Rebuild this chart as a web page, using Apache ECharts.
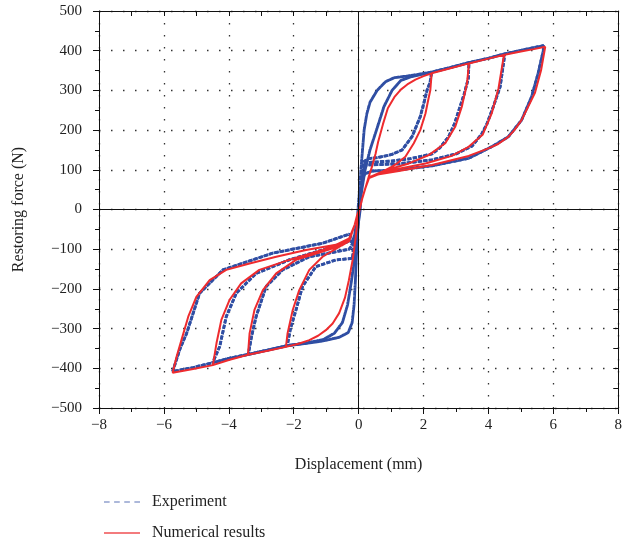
<!DOCTYPE html>
<html>
<head>
<meta charset="utf-8">
<script src="https://cdn.jsdelivr.net/npm/echarts@6/dist/echarts.min.js"></script>
<style>
  html, body { margin: 0; padding: 0; background: #fff; }
  #chartRoot { width: 625px; height: 548px; }
</style>
</head>
<body>
<div id="chartRoot"></div>
<script>
// 坐标轴刻度
const xTicks = [-8, -6, -4, -2, 0, 2, 4, 6, 8];
const yTicks = [-500, -400, -300, -200, -100, 0, 100, 200, 300, 400, 500];

// 数值模拟结果（红线），各分支由图中读取
const redEnvPos = [[0.03,0],[0.12,30],[0.22,57],[0.32,85],[0.42,110],[0.52,140],[0.6,170],[0.75,215],[0.9,255],[1.1,283],[1.3,302],[1.5,315],[1.75,327],[2.0,336],[2.25,343],[2.8,355],[3.4,368],[4.0,380],[4.5,390],[5.0,398],[5.4,404],[5.75,410]];
const redEnvNeg = [[0.03,0],[-0.04,-30],[-0.09,-70],[-0.18,-125],[-0.3,-178],[-0.42,-222],[-0.6,-261],[-0.8,-287],[-1.01,-304],[-1.25,-318],[-1.52,-329],[-1.85,-338],[-2.24,-346],[-2.8,-356],[-3.41,-366],[-4.0,-379],[-4.49,-392],[-5.1,-402],[-5.73,-411]];
const redUnload1 = [[2.25,343],[2.21,301],[2.13,270],[2.06,242],[1.9,200],[1.7,167],[1.44,133],[1.2,117],[1.03,108],[0.63,91],[0.32,79]];
const redUnload2 = [[3.4,368],[3.34,318],[3.18,259],[2.98,209],[2.67,167],[2.16,137],[1.55,116],[0.83,99],[0.32,81]];
const redUnload3 = [[4.5,390],[4.46,380],[4.31,305],[4.1,242],[3.82,188],[3.39,158],[2.87,135],[2.06,116],[1.2,102],[0.32,82]];
const redUnload4 = [[5.75,410],[5.62,350],[5.43,293],[5.2,255],[5.02,225],[4.8,200],[4.61,183],[4.3,165],[4.0,154],[3.39,135],[2.26,112],[1.24,97],[0.63,89],[0.32,79]];
const redReload1 = [[-2.24,-346],[-2.19,-312],[-2.03,-253],[-1.83,-203],[-1.52,-152],[-1.11,-119],[-0.6,-94],[-0.29,-77]];
const redReload2 = [[-3.41,-366],[-3.36,-312],[-3.21,-253],[-2.95,-203],[-2.54,-161],[-1.93,-127],[-1.11,-106],[-0.5,-90],[-0.29,-80]];
const redReload3 = [[-4.49,-392],[-4.38,-337],[-4.23,-278],[-3.98,-228],[-3.62,-186],[-3.06,-152],[-2.14,-127],[-1.11,-102],[-0.5,-85],[-0.29,-80]];
const redReload4 = [[-5.73,-411],[-5.61,-371],[-5.46,-329],[-5.25,-270],[-5.0,-220],[-4.59,-178],[-4.08,-152],[-3.36,-136],[-2.54,-119],[-1.62,-102],[-0.7,-89],[-0.29,-73]];
const redDescend = [[0.2,52],[0.1,25]];
const redAscend = [[-0.12,-38],[-0.04,-12]];

// 试验结果（蓝色虚线），两组近似包络表现多次循环的离散
const blueEnvPosA = [[-0.02,0],[0.03,50],[0.07,100],[0.12,150],[0.17,200],[0.25,240],[0.35,270],[0.57,300],[0.83,322],[1.1,332],[1.5,336],[2.25,346],[2.8,357],[3.4,370],[4.0,381],[4.5,392],[5.0,401],[5.7,413]];
const blueEnvPosB = [[0.02,0],[0.1,50],[0.2,100],[0.35,150],[0.55,200],[0.78,259],[1.03,300],[1.3,325],[1.6,334],[2.25,346],[2.8,357],[3.4,370],[4.0,381],[4.5,392],[5.0,401],[5.7,413]];
const blueEnvNegA = [[0.02,0],[-0.03,-60],[-0.07,-120],[-0.1,-180],[-0.14,-240],[-0.2,-285],[-0.32,-310],[-0.6,-322],[-1.1,-331],[-1.6,-337],[-2.2,-343],[-2.8,-354],[-3.4,-365],[-4.0,-375],[-4.5,-386],[-5.1,-398],[-5.73,-408]];
const blueEnvNegB = [[0.05,0],[-0.05,-60],[-0.12,-120],[-0.22,-180],[-0.34,-240],[-0.5,-285],[-0.75,-312],[-1.1,-328],[-1.6,-336],[-2.2,-343],[-2.8,-354],[-3.4,-365],[-4.0,-375],[-4.5,-386],[-5.1,-398],[-5.73,-408]];
const blueUnload1 = [[2.25,346],[2.2,320],[2.11,301],[2.0,265],[1.9,234],[1.65,184],[1.34,150],[1.0,138],[0.6,131],[0.3,128],[0.15,120]];
const blueUnload2 = [[3.4,370],[3.38,330],[3.25,290],[3.13,260],[2.95,215],[2.77,183],[2.5,155],[2.26,140],[1.6,128],[1.0,122],[0.22,118]];
const blueUnload3 = [[4.5,392],[4.48,377],[4.36,309],[4.15,259],[3.95,215],[3.79,190],[3.5,160],[3.0,140],[2.26,125],[1.24,115],[0.22,112]];
const blueUnload4 = [[5.7,413],[5.69,400],[5.53,343],[5.33,284],[5.02,225],[4.61,183],[4.1,158],[3.39,129],[2.26,110],[1.24,100],[0.42,97],[0.2,90]];
const blueReload1 = [[-2.2,-343],[-2.1,-300],[-1.93,-253],[-1.73,-194],[-1.32,-144],[-0.7,-127],[-0.19,-123]];
const blueReload2 = [[-3.4,-365],[-3.3,-320],[-3.16,-270],[-2.85,-194],[-2.34,-152],[-1.52,-119],[-0.29,-100]];
const blueReload3 = [[-4.5,-386],[-4.28,-345],[-4.08,-270],[-3.77,-211],[-3.16,-161],[-2.14,-127],[-1.11,-102],[-0.29,-80]];
const blueReload4 = [[-5.73,-408],[-5.5,-350],[-5.3,-312],[-4.9,-211],[-4.18,-152],[-2.65,-110],[-1.11,-85],[-0.29,-62]];
const blueDescendA = [[0.1,80],[0.05,40]];
const blueDescendB = [[0.15,80],[0.08,40]];
const blueAscendA = [[-0.1,-80],[-0.05,-40]];
const blueAscendB = [[-0.15,-80],[-0.08,-40]];

// 按加载顺序把各分支拼接成连续的滞回路径
let buildPath = (envPos, envNeg, unloads, reloads, descend, ascend) => {
    let path = [];
    unloads.forEach((unload, i) => {
        const reload = reloads[i];
        const ampPos = unload[0][0];
        const ampNeg = reload[0][0];
        path = path.concat(
            envPos.filter(p => p[0] < ampPos - 0.01),
            unload,
            descend,
            envNeg.filter(p => p[0] > ampNeg + 0.01),
            reload,
            ascend
        );
    });
    return path;
};

const redUnloads = [redUnload1, redUnload2, redUnload3, redUnload4];
const redReloads = [redReload1, redReload2, redReload3, redReload4];
const blueUnloads = [blueUnload1, blueUnload2, blueUnload3, blueUnload4];
const blueReloads = [blueReload1, blueReload2, blueReload3, blueReload4];

const redPath = buildPath(redEnvPos, redEnvNeg, redUnloads, redReloads, redDescend, redAscend);
const bluePathA = buildPath(blueEnvPosA, blueEnvNegA, blueUnloads, blueReloads, blueDescendA, blueAscendA);
const bluePathB = buildPath(blueEnvPosB, blueEnvNegB, blueUnloads, blueReloads, blueDescendB, blueAscendB);

const fontFamily = "'Liberation Serif', 'DejaVu Serif', serif";
const blueColor = "#2f4ea3";
const redColor = "#ee2b2e";
const minus = v => String(v).replace("-", "\u2212");

const myChart = echarts.init(document.querySelector("#chartRoot"));
const dotted = { color: "#333", width: 1.3, type: [1.5, 10.5] };

const option = {
    animation: false,
    backgroundColor: "#fff",
    grid: { left: 99, right: 4, top: 11, bottom: 140 },
    legend: {
        orient: "vertical",
        left: 99,
        top: 489,
        itemWidth: 36,
        itemHeight: 2,
        itemGap: 15,
        textStyle: { fontFamily, fontSize: 16, color: "#222", padding: [0, 0, 0, 7] },
        data: [
            { name: "Experiment", icon: "path://M0,0h5v1h-5zM9,0h5v1h-5zM18,0h5v1h-5zM27,0h5v1h-5z" },
            { name: "Numerical results", icon: "rect" }
        ]
    },
    xAxis: [
        {
            type: "value",
            position: "bottom",
            min: xTicks[0],
            max: xTicks[xTicks.length - 1],
            interval: 2,
            name: "Displacement (mm)",
            nameLocation: "middle",
            nameGap: 49,
            nameTextStyle: { fontFamily, fontSize: 16, color: "#222" },
            axisLine: { show: true, onZero: false, lineStyle: { color: "#111", width: 1 } },
            axisTick: { show: true, inside: false, length: 6, lineStyle: { color: "#111" } },
            minorTick: { show: true, splitNumber: 2, length: 4, lineStyle: { color: "#111" } },
            axisLabel: { fontFamily, fontSize: 15, color: "#222", margin: 10, formatter: minus },
            splitLine: { show: true, lineStyle: dotted }
        },
        {
            type: "value",
            position: "top",
            min: xTicks[0],
            max: xTicks[xTicks.length - 1],
            interval: 1,
            axisLine: { show: true, onZero: false, lineStyle: { color: "#111", width: 1 } },
            axisTick: { show: true, inside: true, length: 5, lineStyle: { color: "#111" } },
            axisLabel: { show: false },
            splitLine: { show: false }
        }
    ],
    yAxis: [
        {
            type: "value",
            position: "left",
            min: yTicks[0],
            max: yTicks[yTicks.length - 1],
            interval: 100,
            name: "Restoring force (N)",
            nameLocation: "middle",
            nameGap: 72,
            nameTextStyle: { fontFamily, fontSize: 16, color: "#222" },
            axisLine: { show: true, onZero: false, lineStyle: { color: "#111", width: 1 } },
            axisTick: { show: true, inside: false, length: 6, lineStyle: { color: "#111" } },
            minorTick: { show: true, splitNumber: 2, length: 4, lineStyle: { color: "#111" } },
            axisLabel: { fontFamily, fontSize: 15, color: "#222", margin: 17, formatter: minus },
            splitLine: { show: true, lineStyle: dotted }
        },
        {
            type: "value",
            position: "right",
            min: yTicks[0],
            max: yTicks[yTicks.length - 1],
            interval: 50,
            axisLine: { show: true, onZero: false, lineStyle: { color: "#111", width: 1 } },
            axisTick: { show: true, inside: true, length: 5, lineStyle: { color: "#111" } },
            axisLabel: { show: false },
            splitLine: { show: false }
        }
    ],
    series: [
        {
            name: "Experiment-A",
            type: "line",
            data: bluePathA,
            symbol: "none",
            lineStyle: { color: blueColor, width: 2.8, type: [4, 1.5] },
            itemStyle: { color: blueColor },
            markLine: {
                silent: true,
                symbol: "none",
                label: { show: false },
                lineStyle: { color: "#111", width: 1, type: "solid" },
                data: [{ xAxis: 0 }, { yAxis: 0 }]
            }
        },
        {
            name: "Experiment-B",
            type: "line",
            data: bluePathB,
            symbol: "none",
            lineStyle: { color: blueColor, width: 2.8, type: [4, 1.5] },
            itemStyle: { color: blueColor }
        },
        {
            name: "Numerical results-data",
            type: "line",
            data: redPath,
            symbol: "none",
            lineStyle: { color: redColor, width: 2 },
            itemStyle: { color: redColor }
        },
        // 仅用于图例显示
        {
            name: "Experiment",
            type: "scatter",
            data: [],
            itemStyle: { color: blueColor }
        },
        {
            name: "Numerical results",
            type: "scatter",
            data: [],
            itemStyle: { color: "#f05a5c" }
        }
    ]
};
myChart.setOption(option);
</script>
</body>
</html>
